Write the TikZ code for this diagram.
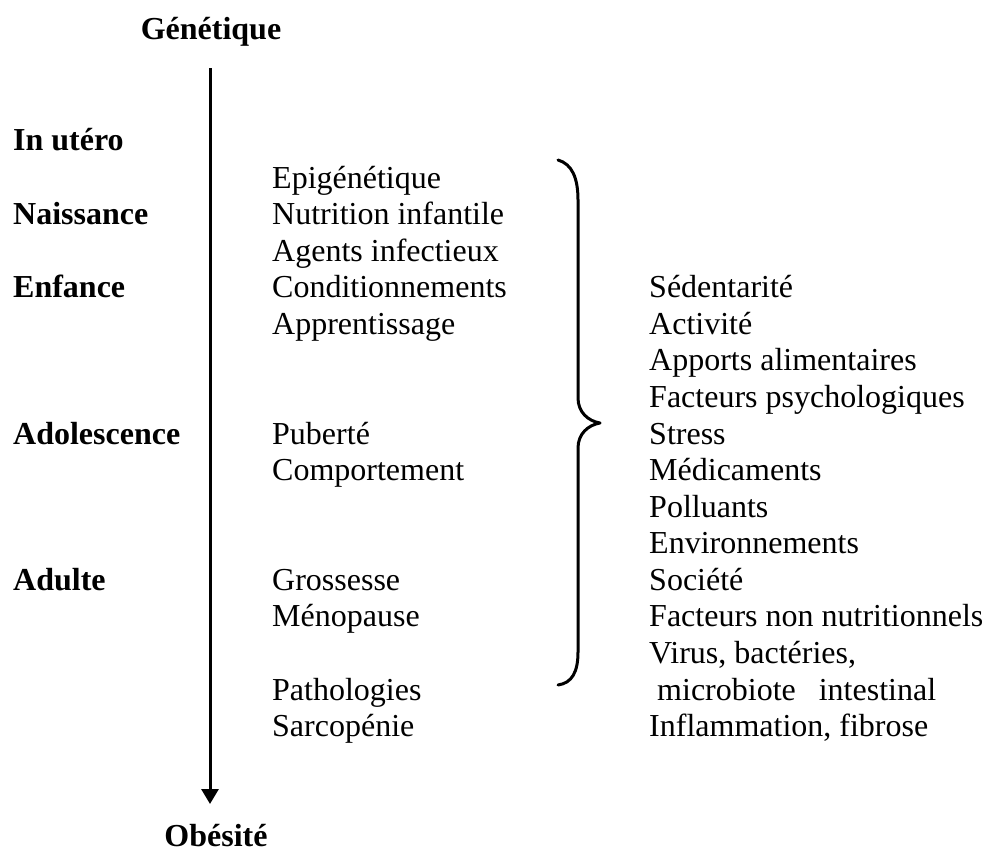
\documentclass[tikz,border=0pt]{standalone}
\usepackage{fontspec}
\setmainfont{Liberation Serif}
\usetikzlibrary{arrows.meta}
\tikzset{
  txt/.style={anchor=base west, inner sep=0pt, font=\fontsize{32}{36}\selectfont},
  btxt/.style={anchor=base west, inner sep=0pt, font=\fontsize{32}{36}\selectfont\bfseries},
  ctxt/.style={anchor=base, inner sep=0pt, font=\fontsize{32}{36}\selectfont\bfseries},
  timeline/.style={line width=3pt, -{Triangle[width=17pt,length=15pt]}},
  bracestyle/.style={line width=3pt, line cap=round, line join=round}
}
\begin{document}
\begin{tikzpicture}[x=1pt,y=-1pt]
\useasboundingbox (0,0) rectangle (984,851);
% titles
\node[ctxt] (gen) at (211,40) {Génétique};
\node[ctxt] (obe) at (216,846) {Obésité};
% timeline arrow
\coordinate (atop) at (210,68);
\coordinate (abot) at (210,804);
\draw[timeline] (atop) -- (abot);
% left column (stages)
\node[btxt] (utero) at (13,150) {In utéro};
\node[btxt] (naiss) at (13,224.6) {Naissance};
\node[btxt] (enf) at (13,297.7) {Enfance};
\node[btxt] (ado) at (13,444) {Adolescence};
\node[btxt] (adu) at (13,590.3) {Adulte};
% middle column
\node[txt] (m0) at (272,188) {Epigénétique};
\node[txt] (m1) at (272,224.6) {Nutrition infantile};
\node[txt] (m2) at (272,261.1) {Agents infectieux};
\node[txt] (m3) at (272,297.7) {Conditionnements};
\node[txt] (m4) at (272,334.3) {Apprentissage};
\node[txt] (m7) at (272,444) {Puberté};
\node[txt] (m8) at (272,480.6) {Comportement};
\node[txt] (m11) at (272,590.3) {Grossesse};
\node[txt] (m12) at (272,626.8) {Ménopause};
\node[txt] (m14) at (272,700) {Pathologies};
\node[txt] (m15) at (272,736.6) {Sarcopénie};
% right column
\node[txt] (r3) at (649,297.7) {Sédentarité};
\node[txt] (r4) at (649,334.3) {Activité};
\node[txt] (r5) at (649,370.9) {Apports alimentaires};
\node[txt] (r6) at (649,407.4) {Facteurs psychologiques};
\node[txt] (r7) at (649,444) {Stress};
\node[txt] (r8) at (649,480.6) {Médicaments};
\node[txt] (r9) at (649,517.1) {Polluants};
\node[txt] (r10) at (649,553.7) {Environnements};
\node[txt] (r11) at (649,590.3) {Société};
\node[txt] (r12) at (649,626.8) {Facteurs non nutritionnels};
\node[txt] (r13) at (649,663.4) {Virus, bactéries,};
\node[txt] (r14) at (657,700) {microbiote\hspace{23pt}intestinal};
\node[txt] (r15) at (649,736.6) {Inflammation, fibrose};
% brace
\draw[bracestyle] (558,160) .. controls (572,164) and (578,178) .. (578,200)
  -- (578,398) .. controls (578,412) and (588,421) .. (600,423)
  .. controls (588,425) and (578,434) .. (578,448)
  -- (578,652) .. controls (578,672) and (572,683) .. (558,685);
\end{tikzpicture}
\end{document}
